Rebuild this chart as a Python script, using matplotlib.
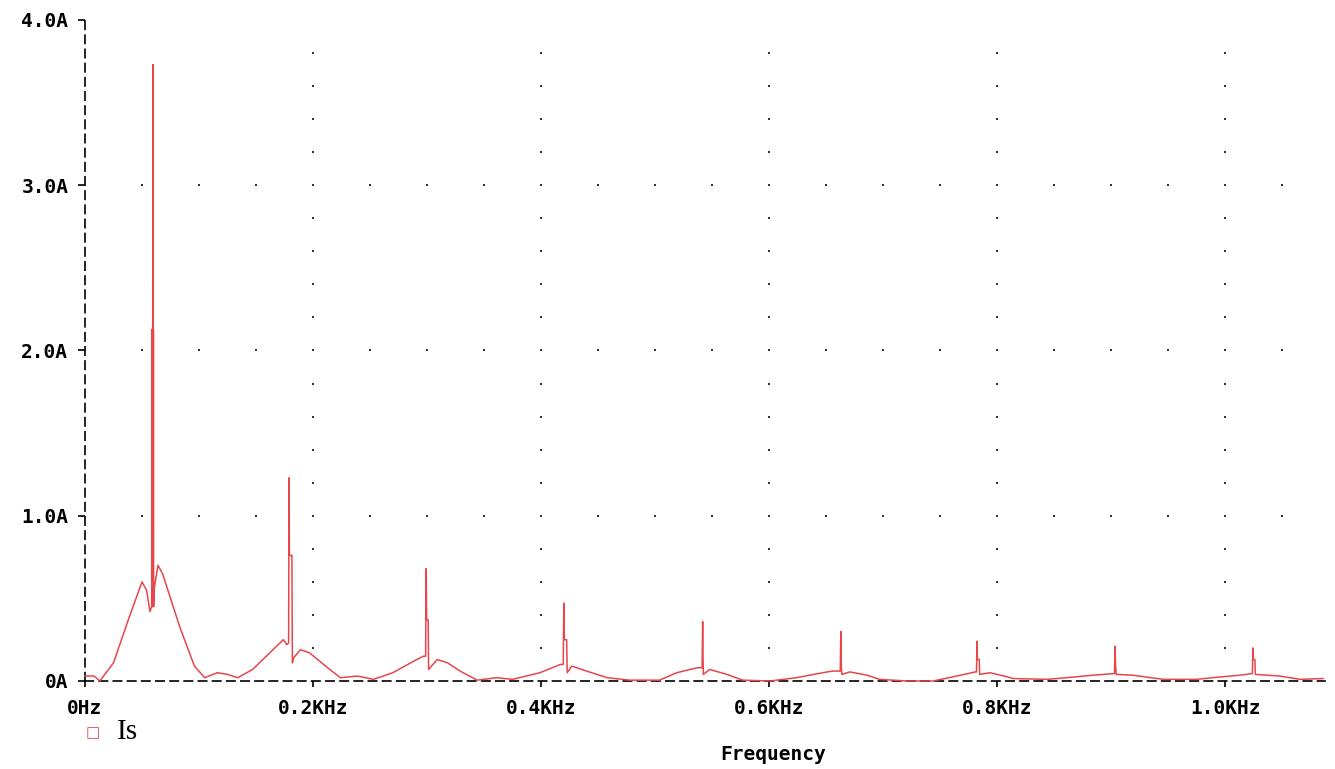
import numpy as np
import matplotlib
matplotlib.use("Agg")
import matplotlib.pyplot as plt

# traced FFT of Is (frequency in Hz, amplitude in A)
freq_hz = [0, 8, 13, 25, 39, 50, 54, 57,
           58.5, 59.0, 59.2, 59.4, 59.6, 59.8, 60.0, 60.2, 60.5,
           64, 68, 83, 96, 105, 116, 125, 134, 147, 153, 162, 171, 174, 177,
           178.6, 179.0, 179.3, 181.2, 181.5, 181.9, 183,
           189, 197, 212, 224, 239, 253, 270, 291, 297,
           298.8, 299.3, 299.7, 301.0, 301.4,
           309, 318, 329, 344, 361, 375, 399, 417,
           419.5, 420.0, 420.5, 422.5, 423.0,
           427, 440, 458, 478, 504, 519, 537,
           541.3, 541.8, 542.1, 542.4,
           548, 563, 577, 601, 624, 651, 656,
           662.5, 663.0, 663.4, 663.8,
           671, 686, 697, 721, 744, 768, 781,
           782.0, 782.4, 782.8, 784.4, 784.8,
           794, 809, 814, 844, 861, 884,
           903.0, 903.5, 904.0, 904.5,
           919, 946, 975, 989, 1013,
           1024.0, 1024.4, 1024.8, 1026.2, 1026.6,
           1048, 1066, 1086]
amp_a = [0.03, 0.03, 0.0, 0.11, 0.39, 0.60, 0.55, 0.42,
         0.45, 2.13, 0.45, 2.13, 3.73, 0.50, 2.13, 0.45, 0.55,
         0.70, 0.65, 0.33, 0.09, 0.02, 0.05, 0.04, 0.02, 0.07, 0.11, 0.17, 0.23, 0.25, 0.22,
         0.23, 1.23, 0.76, 0.76, 0.76, 0.11, 0.14,
         0.19, 0.17, 0.085, 0.02, 0.03, 0.01, 0.05, 0.13, 0.15,
         0.15, 0.68, 0.37, 0.37, 0.07,
         0.13, 0.11, 0.06, 0.005, 0.02, 0.01, 0.05, 0.10,
         0.10, 0.47, 0.25, 0.25, 0.05,
         0.09, 0.06, 0.02, 0.005, 0.005, 0.05, 0.08,
         0.08, 0.36, 0.15, 0.04,
         0.07, 0.04, 0.005, 0.0, 0.02, 0.055, 0.06,
         0.06, 0.30, 0.10, 0.04,
         0.055, 0.035, 0.01, 0.0, 0.0, 0.035, 0.055,
         0.055, 0.24, 0.13, 0.13, 0.04,
         0.05, 0.025, 0.015, 0.01, 0.02, 0.035,
         0.045, 0.21, 0.10, 0.04,
         0.035, 0.01, 0.01, 0.02, 0.035,
         0.045, 0.20, 0.13, 0.13, 0.04,
         0.03, 0.01, 0.015]

x_ticks = [0, 200, 400, 600, 800, 1000]
x_labels = ["0Hz", "0.2KHz", "0.4KHz", "0.6KHz", "0.8KHz", "1.0KHz"]
y_ticks = [0, 1, 2, 3, 4]
y_labels = ["0A", "1.0A", "2.0A", "3.0A", "4.0A"]

LINE_COLOR = "#e8464b"
MONO = {"family": "DejaVu Sans Mono", "weight": "bold", "size": 14}

fig = plt.figure(figsize=(13.35, 7.69), dpi=100)
ax = fig.add_axes([85 / 1335, 1 - 681 / 769, 1240 / 1335, 661 / 769])

ax.set_xlim(0, 1087.7)
ax.set_ylim(0, 4)

# dotted grid, drawn as sparse dots like the original
dot_kw = dict(s=3, marker="s", color="#333333", linewidths=0, zorder=1)
for gy in [1, 2, 3]:
    gx = np.arange(50, 1087, 50)
    ax.scatter(gx, np.full(len(gx), gy), **dot_kw)
for gx in [200, 400, 600, 800, 1000]:
    gy = np.arange(0.2, 3.95, 0.2)
    ax.scatter(np.full(len(gy), gx), gy, **dot_kw)

ax.plot(freq_hz, amp_a, color=LINE_COLOR, lw=1.1, zorder=3, clip_on=False)

for side in ["top", "right"]:
    ax.spines[side].set_visible(False)
for side in ["left", "bottom"]:
    ax.spines[side].set_linestyle((0, (5, 3.5)))
    ax.spines[side].set_linewidth(1.2)
    ax.spines[side].set_color("black")
    ax.spines[side].set_zorder(2)

ax.set_xticks(x_ticks)
ax.set_xticklabels(x_labels, fontdict=MONO)
ax.set_yticks(y_ticks)
ax.set_yticklabels(y_labels, fontdict=MONO)
ax.tick_params(axis="x", direction="out", length=4, width=1.2, pad=9)
ax.tick_params(axis="y", direction="out", length=5, width=1.2, pad=7)

ax.set_xlabel("Frequency", fontdict=MONO)
ax.xaxis.set_label_coords((773 - 85) / 1240, -(755 - 681) / 661)
ax.xaxis.label.set_va("center")

# legend entry
fig.text(93 / 1335, 1 - 733 / 769, "\u25a1", color=LINE_COLOR, fontsize=11,
         ha="center", va="center", family="DejaVu Sans")
fig.text(117 / 1335, 1 - 732 / 769, "Is", fontsize=21, family="Liberation Serif",
         ha="left", va="center")

fig.savefig("out.png", dpi=100, facecolor="white")
